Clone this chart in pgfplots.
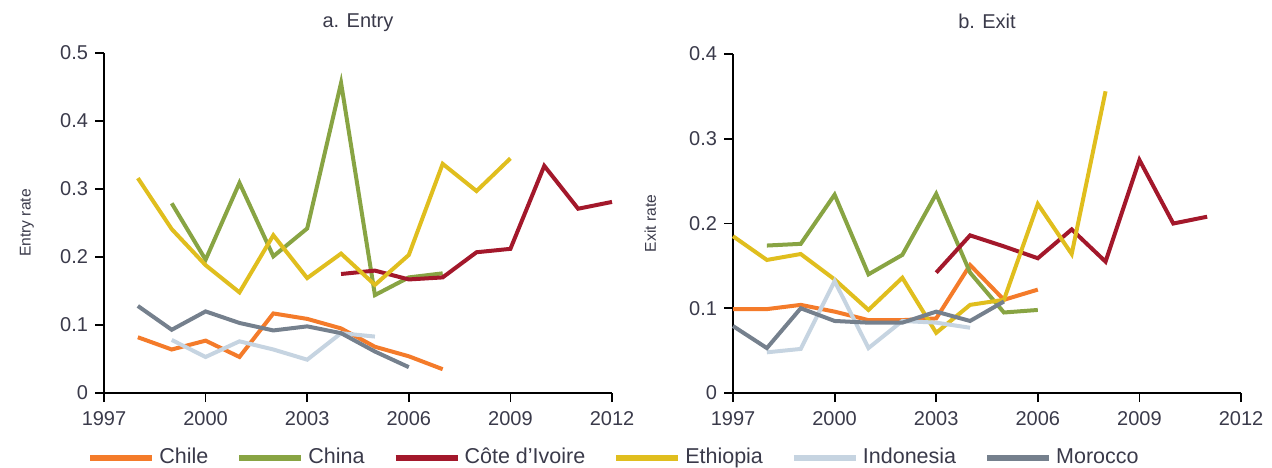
\documentclass[border=0pt]{standalone}
\usepackage{pgfplots}
\pgfplotsset{compat=1.18}
\usepackage{fontspec}
\setmainfont{Liberation Sans}
\definecolor{cchile}{HTML}{F47B2A}
\definecolor{cchina}{HTML}{88A443}
\definecolor{ccote}{HTML}{A3182B}
\definecolor{ceth}{HTML}{E0BE1E}
\definecolor{cindo}{HTML}{C6D4E1}
\definecolor{cmor}{HTML}{75808D}
\definecolor{txt}{HTML}{3A3A4A}
\pgfplotsset{
  panel/.style={
    scale only axis, width=254pt,
    xmin=1997, xmax=2012, ymin=0,
    axis lines=left, axis line style={-, black, line width=0.9pt},
    xtick={1997,2000,...,2012},
    tick align=outside, major tick length=4.5pt,
    tick style={black, line width=0.9pt},
    /pgf/number format/assume math mode=true,
    x tick label style={/pgf/number format/1000 sep={}, font=\fontsize{10}{12}\selectfont, text=txt, yshift=-1pt},
    y tick label style={/pgf/number format/fixed, /pgf/number format/precision=1, font=\fontsize{10}{12}\selectfont, text=txt},
    title style={at={(axis description cs:0.5,1)}, anchor=base, yshift=7pt, font=\fontsize{10}{12}\selectfont, text=txt},
    ylabel style={anchor=center, font=\fontsize{7.8}{9}\selectfont, text=txt},
    clip=false,
    every axis plot/.append style={line width=2pt, line join=miter},
    legend image code/.code={\draw[#1, line width=3pt] (0pt,0pt) -- (31pt,0pt);},
  }
}
\begin{document}
\begin{tikzpicture}
\useasboundingbox (0,0) rectangle (636pt,233.5pt);
\begin{axis}[panel, at={(52pt,37pt)}, anchor=south west,
  height=170pt, ymax=0.5, ytick={0,0.1,...,0.5},
  title={a. Entry}, ylabel={Entry rate},
  ylabel style={at={(axis description cs:-0.152,0.5)}},
  legend columns=6,
  legend style={at={(axis description cs:-0.0335,-0.19)}, anchor=west, draw=none, fill=none, inner sep=0pt,
    font=\fontsize{10.75}{13}\selectfont, text=txt,
    /tikz/every even column/.append style={column sep=12pt}},
]
\addplot[cchile] coordinates {(1998,0.082)(1999,0.064)(2000,0.077)(2001,0.053)(2002,0.117)(2003,0.109)(2004,0.095)(2005,0.068)(2006,0.054)(2007,0.035)};
\addlegendentry{Chile}
\addplot[cchina] coordinates {(1999,0.279)(2000,0.196)(2001,0.309)(2002,0.201)(2003,0.242)(2004,0.456)(2005,0.144)(2006,0.170)(2007,0.176)};
\addlegendentry{China}
\addplot[ccote] coordinates {(2004,0.175)(2005,0.180)(2006,0.167)(2007,0.170)(2008,0.207)(2009,0.212)(2010,0.334)(2011,0.271)(2012,0.281)};
\addlegendentry{Côte d'Ivoire}
\addplot[ceth] coordinates {(1998,0.316)(1999,0.241)(2000,0.188)(2001,0.148)(2002,0.232)(2003,0.169)(2004,0.205)(2005,0.159)(2006,0.203)(2007,0.337)(2008,0.297)(2009,0.345)};
\addlegendentry{Ethiopia}
\addplot[cindo] coordinates {(1999,0.078)(2000,0.053)(2001,0.076)(2002,0.064)(2003,0.049)(2004,0.088)(2005,0.083)};
\addlegendentry{Indonesia}
\addplot[cmor] coordinates {(1998,0.128)(1999,0.093)(2000,0.120)(2001,0.103)(2002,0.092)(2003,0.098)(2004,0.088)(2005,0.061)(2006,0.038)};
\addlegendentry{Morocco}
\end{axis}
\begin{axis}[panel, at={(366.5pt,37pt)}, anchor=south west,
  height=169.5pt, ymax=0.4, ytick={0,0.1,...,0.4},
  title={b. Exit}, ylabel={Exit rate},
  ylabel style={at={(axis description cs:-0.163,0.5)}},
]
\addplot[cchile] coordinates {(1997,0.099)(1998,0.099)(1999,0.104)(2000,0.096)(2001,0.086)(2002,0.086)(2003,0.088)(2004,0.151)(2005,0.110)(2006,0.122)};
\addplot[cchina] coordinates {(1998,0.174)(1999,0.176)(2000,0.234)(2001,0.140)(2002,0.163)(2003,0.235)(2004,0.142)(2005,0.095)(2006,0.098)};
\addplot[ccote] coordinates {(2003,0.142)(2004,0.186)(2005,0.173)(2006,0.159)(2007,0.193)(2008,0.155)(2009,0.275)(2010,0.200)(2011,0.208)};
\addplot[ceth] coordinates {(1997,0.185)(1998,0.157)(1999,0.164)(2000,0.134)(2001,0.098)(2002,0.136)(2003,0.071)(2004,0.104)(2005,0.110)(2006,0.223)(2007,0.164)(2008,0.356)};
\addplot[cindo] coordinates {(1998,0.048)(1999,0.052)(2000,0.132)(2001,0.053)(2002,0.085)(2003,0.083)(2004,0.077)};
\addplot[cmor] coordinates {(1997,0.079)(1998,0.053)(1999,0.100)(2000,0.085)(2001,0.083)(2002,0.083)(2003,0.096)(2004,0.085)(2005,0.108)};
\end{axis}
\end{tikzpicture}
\end{document}
